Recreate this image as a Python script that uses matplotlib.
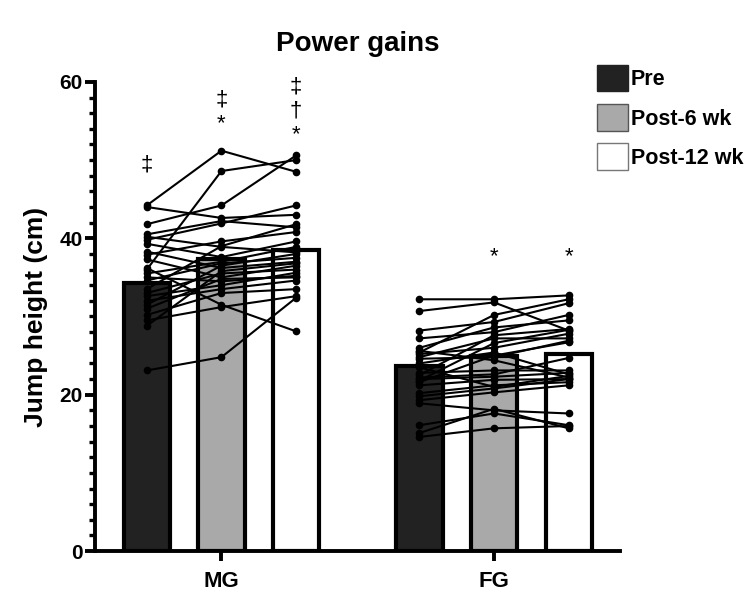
import numpy as np
from matplotlib import pyplot as plt
from matplotlib.patches import Patch

plt.rcParams['font.family'] = ['Liberation Sans', 'DejaVu Sans']

groups = ['MG', 'FG']
timepoints = ['Pre', 'Post-6 wk', 'Post-12 wk']

# bar heights (group means)
mg_means = [34.3, 37.3, 38.5]
fg_means = [23.7, 24.9, 25.2]

# individual subjects, MG
mg_pre = [44.2, 44.0, 41.8, 40.5, 40.2, 39.8, 39.3, 38.3, 37.9, 37.3, 36.0, 36.2, 35.5,
          35.0, 34.6, 33.5, 33.0, 32.6, 32.0, 31.5, 31.0, 30.2, 29.5, 28.8, 23.1]
mg_post6 = [51.2, 42.6, 44.2, 42.2, 38.9, 41.9, 37.6, 36.2, 39.6, 35.0, 48.6, 31.5, 37.0,
            34.5, 36.8, 39.0, 35.5, 34.0, 33.5, 36.5, 34.8, 33.0, 31.2, 35.8, 24.8]
mg_post12 = [48.5, 43.0, 50.6, 41.4, 38.2, 44.2, 39.6, 37.0, 40.8, 36.5, 50.0, 28.1, 38.9,
             35.2, 37.5, 41.8, 36.0, 35.6, 34.6, 38.0, 35.0, 33.5, 32.6, 36.8, 32.4]

# individual subjects, FG
fg_pre = [32.2, 30.7, 28.2, 27.2, 26.0, 25.6, 25.2, 24.8, 24.0, 22.8, 22.5, 22.0, 21.6,
          21.2, 20.2, 19.3, 18.9, 16.1, 15.1, 14.6, 25.4, 22.2, 21.8, 24.6, 23.5, 19.8]
fg_post6 = [32.2, 31.8, 29.3, 28.0, 28.6, 24.4, 26.0, 27.2, 25.4, 23.1, 27.6, 22.3, 25.0,
            21.9, 21.2, 20.3, 18.0, 17.6, 18.2, 15.7, 30.2, 22.6, 26.6, 24.8, 21.0, 20.8]
fg_post12 = [32.7, 28.2, 31.7, 30.2, 29.5, 22.2, 27.8, 27.2, 22.6, 23.1, 28.4, 22.8, 26.7,
             22.0, 21.6, 21.2, 17.6, 16.1, 15.7, 16.0, 32.2, 24.7, 28.3, 26.9, 22.4, 22.0]

# significance marks, bottom to top, with height of the lowest one
mg_marks = [['‡'], ['*', '‡'], ['*', '†', '‡']]
mg_mark_y = [49.4, 54.6, 53.2]
fg_marks = [[], ['*'], ['*']]
fg_mark_y = [0, 37.6, 37.6]

colors = ['#222222', '#a9a9a9', '#ffffff']

fig = plt.figure(figsize=(7.5, 6.11), dpi=100)
ax = fig.add_axes([0.127, 0.098, 0.7, 0.768])

offsets = [0, 3.65]
all_means = [mg_means, fg_means]
all_data = [[mg_pre, mg_post6, mg_post12], [fg_pre, fg_post6, fg_post12]]
all_marks = [(mg_marks, mg_mark_y), (fg_marks, fg_mark_y)]

for g in range(2):
    xs = offsets[g] + np.arange(3)
    ax.bar(xs, all_means[g], width=0.62, color=colors, edgecolor='black',
           linewidth=3, zorder=1)
    data = np.array(all_data[g])
    for s in range(data.shape[1]):
        ax.plot(xs, data[:, s], color='black', lw=1.5, marker='o', ms=4.5, zorder=3)
    marks, ybase = all_marks[g]
    for i, m_list in enumerate(marks):
        for k, m in enumerate(m_list):
            ax.text(xs[i], ybase[i] + k * 3.1, m, ha='center', va='center',
                    fontsize=16, zorder=4)

ax.set_xlim(-0.69, 6.34)
ax.set_ylim(0, 60)
ax.set_yticks([0, 20, 40, 60])
ax.set_yticks(np.arange(0, 61, 2), minor=True)
ax.set_xticks([offsets[0] + 1, offsets[1] + 1])
ax.set_xticklabels(groups)

for side in ['top', 'right']:
    ax.spines[side].set_visible(False)
for side in ['left', 'bottom']:
    ax.spines[side].set_linewidth(2.8)

ax.tick_params(axis='both', which='major', length=7, width=2.8, labelsize=15, pad=2)
ax.tick_params(axis='y', which='minor', length=4.5, width=2.4)
ax.tick_params(axis='x', labelsize=16, pad=7)
for lab in ax.get_xticklabels() + ax.get_yticklabels():
    lab.set_fontweight('bold')

ax.set_ylabel('Jump height (cm)', fontsize=19, fontweight='bold', labelpad=8)
ax.set_title('Power gains', fontsize=20, fontweight='bold', pad=22)

handles = [Patch(facecolor=colors[0], edgecolor='#222222', lw=1),
           Patch(facecolor=colors[1], edgecolor='#555555', lw=1),
           Patch(facecolor=colors[2], edgecolor='#777777', lw=1)]
fig.legend(handles, timepoints, loc='upper left',
           bbox_to_anchor=(0.781, 0.912), frameon=False,
           prop={'size': 15.5, 'weight': 'bold'},
           handlelength=1.45, handleheight=1.55, handletextpad=0.15,
           labelspacing=0.58, borderpad=0)

fig.savefig('out.png', dpi=100)
